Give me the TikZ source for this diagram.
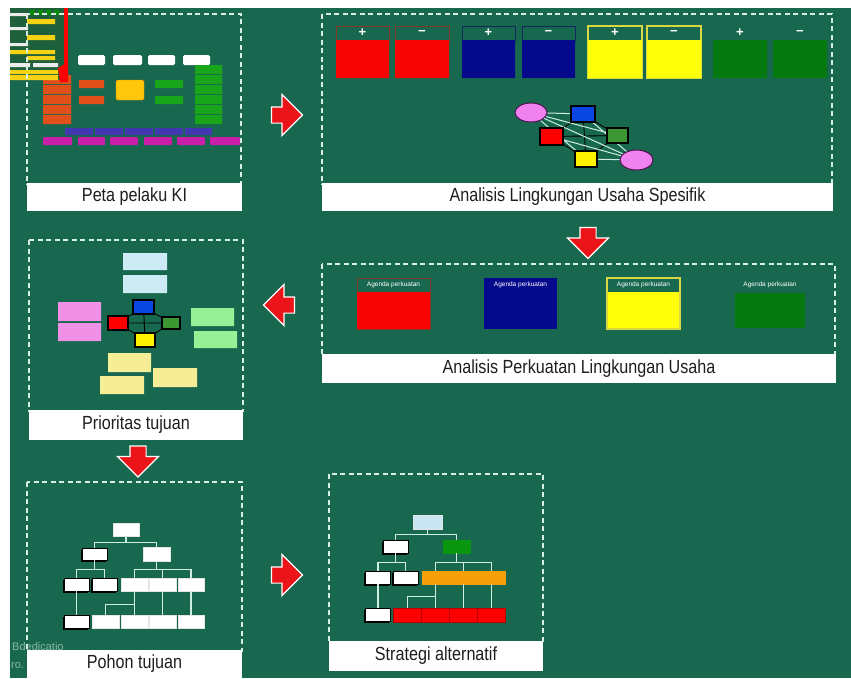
\documentclass[tikz,border=0pt]{standalone}
\usepackage{fontspec}
\setmainfont{Liberation Sans}
\newfontfamily\labelfont[FakeStretch=0.85]{Liberation Sans}
\usetikzlibrary{shapes.geometric,shapes.arrows,shadows}

\pgfdeclarelayer{board}
\pgfdeclarelayer{edges}
\pgfsetlayers{board,edges,main}

\definecolor{board}{RGB}{24,104,80}
\definecolor{dashcol}{RGB}{215,238,228}
\definecolor{labelcol}{RGB}{30,30,30}
\definecolor{arrowred}{RGB}{235,20,25}
\definecolor{linecol}{RGB}{205,238,225}
\definecolor{panelred}{RGB}{250,5,5}
\definecolor{panelblue}{RGB}{5,10,140}
\definecolor{panelyellow}{RGB}{255,255,10}
\definecolor{panelgreen}{RGB}{5,120,15}
\definecolor{redline}{RGB}{130,55,40}
\definecolor{blueline}{RGB}{20,40,95}
\definecolor{yellowline}{RGB}{215,215,70}
\definecolor{ovalpink}{RGB}{240,130,240}
\definecolor{ovalline}{RGB}{80,20,80}
\definecolor{netblue}{RGB}{10,70,225}
\definecolor{netgreen}{RGB}{60,150,50}
\definecolor{barorange}{RGB}{225,80,25}
\definecolor{baryellow}{RGB}{255,200,10}
\definecolor{bargreen}{RGB}{25,165,25}
\definecolor{barblue}{RGB}{65,55,175}
\definecolor{barmagenta}{RGB}{200,30,170}
\definecolor{thumbgreen}{RGB}{30,95,60}
\definecolor{thumbyellow}{RGB}{245,210,20}
\definecolor{stickblue}{RGB}{205,235,245}
\definecolor{stickpink}{RGB}{240,145,230}
\definecolor{stickgreen}{RGB}{150,240,150}
\definecolor{stickyellow}{RGB}{245,238,150}
\definecolor{treeorange}{RGB}{245,160,10}
\definecolor{treegreen}{RGB}{10,150,15}
\definecolor{treeblue}{RGB}{200,230,242}
\definecolor{marktext}{RGB}{140,185,165}

\begin{document}
\begin{tikzpicture}[x=1pt,y=-1pt]
 % styles for boxes, labels, arrows and the small diagrams
 \tikzset{
  dashbox/.style={draw=dashcol, line width=1.4pt, dash pattern=on 5pt off 3.5pt},
  labelbar/.style={fill=white, inner sep=0pt, text=labelcol, font=\labelfont\fontsize{19}{21}\selectfont},
  blockarrow/.style={single arrow, fill=arrowred, draw=white, line width=1.2pt, inner xsep=0pt, inner ysep=7.5pt, minimum height=31pt, single arrow head extend=12.5pt},
  signtext/.style={text=white, font=\bfseries\fontsize{13}{14}\selectfont, inner sep=0pt},
  agendatext/.style={text=white, font=\fontsize{6.5}{7}\selectfont, inner sep=0pt},
  netbox/.style={draw=black, line width=1.2pt, inner sep=0pt},
  netoval/.style={ellipse, fill=ovalpink, draw=ovalline, line width=1pt, inner sep=0pt},
  treebox/.style={fill=white, draw=white!80!gray, line width=0.4pt, inner sep=0pt, minimum width=26pt, minimum height=13pt},
  treeshadow/.style={treebox, draw=black, drop shadow={shadow xshift=-1.2pt, shadow yshift=-1.5pt, fill=black, opacity=1}},
  treeline/.style={draw=linecol, line width=1.2pt}
 }

 %background board
 \begin{pgfonlayer}{board}
 \fill[white] (0,0) rectangle (851,678);
 \fill[board] (10,8) rectangle (851,678);
 \end{pgfonlayer}
 \useasboundingbox (0,0) rectangle (851,678);

 %box 1: bars of the actors map
 \fill[white, rounded corners=1.5pt] (78,55) rectangle (105,65) (113,55) rectangle (142,65) (148,55) rectangle (175,65) (183,55) rectangle (210,65);
 \fill[barorange] (43,75) rectangle (71,84) (43,85) rectangle (71,94) (43,95) rectangle (71,104) (43,105) rectangle (71,114) (43,115) rectangle (71,124);
 \fill[barorange] (79,80) rectangle (104,88) (79,96) rectangle (104,104);
 \draw[fill=baryellow, draw=orange, rounded corners=1.5pt] (116,80) rectangle (144,100);
 \fill[bargreen] (155,80) rectangle (183,88) (155,96) rectangle (183,104);
 \fill[bargreen] (195,65) rectangle (222,74) (195,75) rectangle (222,84) (195,85) rectangle (222,94) (195,95) rectangle (222,104) (195,105) rectangle (222,114) (195,115) rectangle (222,124);
 \fill[barblue] (65,128) rectangle (93,135) (95,128) rectangle (123,135) (125,128) rectangle (153,135) (155,128) rectangle (183,135) (185,128) rectangle (212,135);
 \fill[barmagenta, rounded corners=1pt] (43,137) rectangle (72,145) (78,137) rectangle (105,145) (110,137) rectangle (138,145) (144,137) rectangle (172,145) (177,137) rectangle (205,145) (210,137) rectangle (240,145);

 %small picture in the top left corner
 \fill[thumbgreen] (10,8) rectangle (64,80);
 \fill[green!55!black] (30,10) rectangle (35,15) (38,10) rectangle (43,15) (46,10) rectangle (51,15) (54,10) rectangle (59,15);
 \fill[thumbyellow] (27,19) rectangle (55,24) (27,35) rectangle (55,40) (10,50) rectangle (55,54) (27,56) rectangle (55,60) (10,70) rectangle (58,74) (10,75) rectangle (58,80);
 \fill[white!85!gray] (10,13) rectangle (28,16) (10,27) rectangle (28,30) (10,43) rectangle (28,46) (10,63) rectangle (30,67) (33,63) rectangle (58,67);
 \fill[red] (64,8) rectangle (68,78);
 \fill[red] (58,68) -- (68,62) -- (68,82) -- (60,82) -- cycle;

 %box 2: plus and minus panels
 \draw[redline, line width=1pt] (336,26) rectangle (389,40) (395,26) rectangle (449,40);
 \fill[panelred] (336,40) rectangle (389,78) (395,40) rectangle (449,78);
 \draw[blueline, line width=1pt] (462,26) rectangle (515,40) (522,26) rectangle (575,40);
 \fill[panelblue] (462,40) rectangle (515,78) (522,40) rectangle (575,78);
 \draw[yellowline, line width=1.2pt] (588,26) rectangle (642,78) (647,26) rectangle (701,78);
 \fill[panelyellow] (588,40) rectangle (642,78) (647,40) rectangle (701,78);
 \fill[panelgreen] (713,40) rectangle (767,78) (773,40) rectangle (827,78);
 \node[signtext] (sg1) at (362.5,33) {+};
 \node[signtext] (sg2) at (422,33) {−};
 \node[signtext] (sg3) at (488.5,33) {+};
 \node[signtext] (sg4) at (548.5,33) {−};
 \node[signtext] (sg5) at (615,33) {+};
 \node[signtext] (sg6) at (674,33) {−};
 \node[signtext] (sg7) at (740,33) {+};
 \node[signtext] (sg8) at (800,33) {−};

 %box 2: network
 \node[netoval, minimum width=32pt, minimum height=19pt] (pk1) at (531,112.5) {};
 \node[netbox, fill=netblue, minimum width=24pt, minimum height=16pt] (bl) at (583,114) {};
 \node[netbox, fill=red, minimum width=23pt, minimum height=17pt] (rd) at (551.5,136.5) {};
 \node[netbox, fill=netgreen, minimum width=21pt, minimum height=15pt] (gr) at (617.5,135.5) {};
 \node[netbox, fill=yellow, minimum width=22pt, minimum height=16pt] (ye) at (586,159) {};
 \node[netoval, minimum width=33pt, minimum height=20pt] (pk2) at (636.5,160) {};
 \begin{pgfonlayer}{edges}
 \draw[black, line width=0.9pt] (rd.center) -- (bl.center) (bl.center) -- (gr.center) (gr.center) -- (ye.center) (ye.center) -- (rd.center) (rd.center) -- (gr.center) (bl.center) -- (ye.center);
 \draw[linecol, line width=1pt] (pk1.center) -- (bl.center) (pk1.center) -- (gr.center) (pk1.center) -- (ye.center) (pk1.center) -- (pk2.center) (pk2.center) -- (rd.center) (pk2.center) -- (bl.center) (pk2.center) -- (ye.center);
 \end{pgfonlayer}

 %box 3: agenda panels
 \draw[redline, line width=1pt] (357,278) rectangle (430,329);
 \fill[panelred] (357,292) rectangle (430,329);
 \fill[panelblue] (484,278) rectangle (557,329);
 \draw[yellowline, line width=1.2pt, fill=panelyellow] (607,278) rectangle (680,329);
 \fill[board] (608,279) rectangle (679,292);
 \fill[panelgreen] (735,293) rectangle (805,328);
 \node[agendatext] (ag1) at (393.5,285) {Agenda perkuatan};
 \node[agendatext] (ag2) at (520.5,285) {Agenda perkuatan};
 \node[agendatext] (ag3) at (643.5,285) {Agenda perkuatan};
 \node[agendatext] (ag4) at (770,285) {Agenda perkuatan};

 %box 4: sticky notes
 \fill[stickblue] (123,253) rectangle (167,270) (123,275) rectangle (167,293);
 \fill[stickpink] (58,302) rectangle (101,321) (58,323) rectangle (101,341);
 \fill[stickgreen] (191,308) rectangle (234,326) (194,331) rectangle (237,348);
 \fill[stickyellow] (108,353) rectangle (151,372) (100,376) rectangle (144,394) (153,368) rectangle (197,387);
 \node[netbox, fill=netblue, minimum width=21pt, minimum height=14pt] (bl2) at (143.5,307) {};
 \node[netbox, fill=red, minimum width=20pt, minimum height=14pt] (rd2) at (118,323) {};
 \node[netbox, fill=netgreen, minimum width=18pt, minimum height=12pt] (gr2) at (171,323) {};
 \node[netbox, fill=yellow, minimum width=20pt, minimum height=14pt] (ye2) at (145,340) {};
 \begin{pgfonlayer}{edges}
 \draw[black, line width=0.9pt] (rd2.center) -- (bl2.center) (bl2.center) -- (gr2.center) (gr2.center) -- (ye2.center) (ye2.center) -- (rd2.center) (rd2.center) -- (gr2.center) (bl2.center) -- (ye2.center);
 \end{pgfonlayer}

 %box 5: goal tree
 \node[treebox] (r5) at (126,529.5) {};
 \node[treeshadow, minimum width=25pt, minimum height=12pt] (a5) at (94.5,554) {};
 \node[treebox, minimum width=27pt, minimum height=14pt] (b5) at (156.5,554) {};
 \node[treeshadow, minimum width=25pt] (c51) at (76.5,584.5) {};
 \node[treeshadow, minimum width=25pt] (c52) at (104.5,584.5) {};
 \node[treebox, minimum width=27pt] (c53) at (134.5,584.5) {};
 \node[treebox, minimum width=27pt] (c54) at (162.5,584.5) {};
 \node[treebox] (c55) at (191,584.5) {};
 \node[treeshadow, minimum width=25pt] (d51) at (76.5,621.5) {};
 \node[treebox, minimum width=27pt] (d52) at (105.5,621.5) {};
 \node[treebox, minimum width=27pt] (d53) at (134.5,621.5) {};
 \node[treebox, minimum width=27pt] (d54) at (162.5,621.5) {};
 \node[treebox] (d55) at (191,621.5) {};
 \draw[treeline] (r5.south) -- ++(0,6) -| (a5.north);
 \draw[treeline] (r5.south) -- ++(0,6) -| (b5.north);
 \draw[treeline] (a5.south) -- ++(0,9) -| (c51.north);
 \draw[treeline] (a5.south) -- ++(0,9) -| (c52.north);
 \draw[treeline] (b5.south) -- ++(0,8) -| (c53.north);
 \draw[treeline] (b5.south) -- ++(0,8) -| (c54.north);
 \draw[treeline] (b5.south) -- ++(0,8) -| (c55.north);
 \draw[treeline] (c51) -- (d51);
 \draw[treeline] (c53.south) -- ++(0,13) -| (d52.north);
 \draw[treeline] (c53) -- (d53);
 \draw[treeline] (c54) -- (d54);
 \draw[treeline] (c55) -- (d55);

 %box 6: strategy tree
 \node[treebox, fill=treeblue, minimum width=29pt, minimum height=14pt] (r6) at (427.5,522) {};
 \node[treeshadow, minimum width=25pt] (a6) at (395.5,546.5) {};
 \node[treebox, fill=treegreen, draw=treegreen, minimum width=27pt] (b6) at (456.5,546.5) {};
 \node[treeshadow, minimum width=25pt] (c61) at (378,577.5) {};
 \node[treeshadow, minimum width=25pt] (c62) at (405.5,577.5) {};
 \node[treebox, fill=treeorange, draw=treeorange, minimum width=27pt] (c63) at (435.5,577.5) {};
 \node[treebox, fill=treeorange, draw=treeorange, minimum width=27pt] (c64) at (463.5,577.5) {};
 \node[treebox, fill=treeorange, draw=treeorange, minimum width=27pt] (c65) at (491.5,577.5) {};
 \node[treeshadow, minimum width=25pt] (d61) at (378,615) {};
 \node[treebox, fill=red, draw=red!70!black, minimum width=28pt, minimum height=14pt] (d62) at (407.5,615) {};
 \node[treebox, fill=red, draw=red!70!black, minimum width=28pt, minimum height=14pt] (d63) at (435.5,615) {};
 \node[treebox, fill=red, draw=red!70!black, minimum width=28pt, minimum height=14pt] (d64) at (463.5,615) {};
 \node[treebox, fill=red, draw=red!70!black, minimum width=28pt, minimum height=14pt] (d65) at (491.5,615) {};
 \draw[treeline] (r6.south) -- ++(0,5) -| (a6.north);
 \draw[treeline] (r6.south) -- ++(0,5) -| (b6.north);
 \draw[treeline] (a6.south) -- ++(0,9) -| (c61.north);
 \draw[treeline] (a6.south) -- ++(0,9) -| (c62.north);
 \draw[treeline] (b6.south) -- ++(0,9) -| (c63.north);
 \draw[treeline] (b6.south) -- ++(0,9) -| (c64.north);
 \draw[treeline] (b6.south) -- ++(0,9) -| (c65.north);
 \draw[treeline] (c61) -- (d61);
 \draw[treeline] (c63.south) -- ++(0,12) -| (d62.north);
 \draw[treeline] (c63) -- (d63);
 \draw[treeline] (c64) -- (d64);
 \draw[treeline] (c65) -- (d65);

 %faint text left at the bottom
 \node[anchor=west, text=marktext, inner sep=0pt, font=\fontsize{11}{12}\selectfont] (mk1) at (12,647) {Bdedicatio};
 \node[anchor=west, text=marktext, inner sep=0pt, font=\fontsize{11}{12}\selectfont] (mk2) at (11,666) {ro.};

 %dashed boxes
 \draw[dashbox] (27,14) rectangle (241,184);
 \draw[dashbox] (322,14) rectangle (832,184);
 \draw[dashbox] (322,264) rectangle (835,355);
 \draw[dashbox] (29,240) rectangle (243,411);
 \draw[dashbox] (27,482) rectangle (242,651);
 \draw[dashbox] (329,474) rectangle (543,642);

 %label bars
 \node[labelbar, minimum width=215pt, minimum height=28pt] (lb1) at (134.5,197) {Peta pelaku KI};
 \node[labelbar, minimum width=511pt, minimum height=28pt] (lb2) at (577.5,197) {Analisis Lingkungan Usaha Spesifik};
 \node[labelbar, minimum width=514pt, minimum height=29pt] (lb3) at (579,368.5) {Analisis Perkuatan Lingkungan Usaha};
 \node[labelbar, minimum width=214pt, minimum height=30pt] (lb4) at (136,425) {Prioritas tujuan};
 \node[labelbar, minimum width=215pt, minimum height=28pt] (lb5) at (134.5,664) {Pohon tujuan};
 \node[labelbar, minimum width=214pt, minimum height=30pt] (lb6) at (436,656) {Strategi alternatif};

 %red arrows between the steps
 \node[blockarrow] (ar1) at (283,115) {};
 \node[blockarrow, rotate=-90] (ar2) at (588,239) {};
 \node[blockarrow, rotate=180] (ar3) at (283,305) {};
 \node[blockarrow, rotate=-90] (ar4) at (138,457.5) {};
 \node[blockarrow] (ar5) at (283,575) {};
\end{tikzpicture}
\end{document}
